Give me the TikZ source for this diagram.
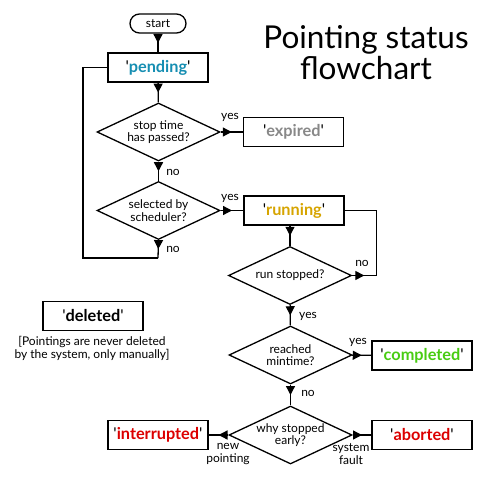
\documentclass[tikz,border=0pt]{standalone}
\usepackage{fontspec}
\setmainfont{Lato}[Ligatures=TeXOff]
\usepackage{xcolor}
\usetikzlibrary{shapes.geometric,arrows.meta,decorations.markings}
\definecolor{pendcol}{RGB}{22,142,178}
\definecolor{expcol}{RGB}{136,136,136}
\definecolor{runcol}{RGB}{214,164,0}
\definecolor{compcol}{RGB}{72,204,18}
\definecolor{failcol}{RGB}{220,0,0}
\newcommand{\status}[2]{'\textbf{\color{#1}#2}'}

\begin{document}
\begin{tikzpicture}[x=1pt,y=-1pt,line width=1.3pt,
    box/.style={draw,minimum width=100pt,minimum height=29pt,inner sep=0pt,font=\fontsize{16.3}{19}\selectfont},
    test/.style={draw,diamond,aspect=2.12,minimum width=123pt,minimum height=58pt,inner sep=0pt,align=center,font=\fontsize{12}{12.5}\selectfont},
    lbl/.style={inner sep=0pt,align=center,font=\fontsize{12}{12.5}\selectfont},
    midarr/.style={postaction={decorate},decoration={markings,mark=at position 0.5 with {\arrow{Triangle[length=9pt,width=9pt]}}}}]
        \useasboundingbox (0,0) rectangle (490,484);
        \node[font=\fontsize{31.5}{31}\selectfont,align=center] (title) at (366,53) {Pointing status\\flowchart};
        \node[draw,rounded corners=9.5pt,minimum width=56pt,minimum height=19pt,inner sep=0pt,font=\fontsize{12}{12.5}\selectfont] (start) at (158,23.5) {start};
        \node[box] (pending) at (158,67.5) {\status{pendcol}{pending}};
        \node[test] (stoptime) at (158.5,132) {stop time\\has passed?};
        \node[box] (expired) at (293.5,132) {\status{expcol}{expired}};
        \node[test] (selected) at (158.5,210.5) {selected by\\scheduler?};
        \node[box] (running) at (294,210.5) {\status{runcol}{running}};
        \node[test] (stopped) at (290,275.5) {run stopped?};
        \node[test] (mintime) at (290.5,355) {reached\\mintime?};
        \node[box] (completed) at (422,355.5) {\status{compcol}{completed}};
        \node[test] (why) at (290.5,435) {why stopped\\early?};
        \node[box] (interrupted) at (158,435) {\status{failcol}{interrupted}};
        \node[box] (aborted) at (422,435) {\status{failcol}{aborted}};
        \node[box] (deleted) at (93,316) {\status{black}{deleted}};
        \node[lbl] (note) at (92,348.5) {[Pointings are never deleted\\by the system, only manually]};
        \coordinate (back) at (158,258);
        \coordinate (loop) at (83,258);
        \coordinate (turn) at (376.5,275.5);
        \draw[midarr] (start) -- (pending);
        \draw[midarr] (pending) -- (stoptime);
        \draw[midarr] (stoptime) -- (expired);
        \draw[midarr] (stoptime) -- (selected);
        \draw[midarr] (selected) -- (running);
        \draw[midarr] (selected.south) -- (back);
        \draw (back) -- (loop) |- (pending.west);
        \draw[midarr] (stopped.north |- running.south) -- (stopped.north);
        \draw[midarr] (stopped.east) -- (turn);
        \draw (turn) |- (running.east);
        \draw[midarr] (stopped) -- (mintime);
        \draw[midarr] (mintime) -- (completed);
        \draw[midarr] (mintime) -- (why);
        \draw[midarr] (why) -- (interrupted);
        \draw[midarr] (why) -- (aborted);
        \node[lbl] (yes1) at (230,117) {yes};
        \node[lbl] (no1) at (173,172) {no};
        \node[lbl] (yes2) at (230,198) {yes};
        \node[lbl] (no2) at (173,249) {no};
        \node[lbl] (no3) at (362,263) {no};
        \node[lbl] (yes3) at (308,316) {yes};
        \node[lbl] (yes4) at (358,342) {yes};
        \node[lbl] (no4) at (308,393) {no};
        \node[lbl] (newp) at (228,454) {new\\pointing};
        \node[lbl] (fault) at (351,454) {system\\fault};
\end{tikzpicture}
\end{document}
